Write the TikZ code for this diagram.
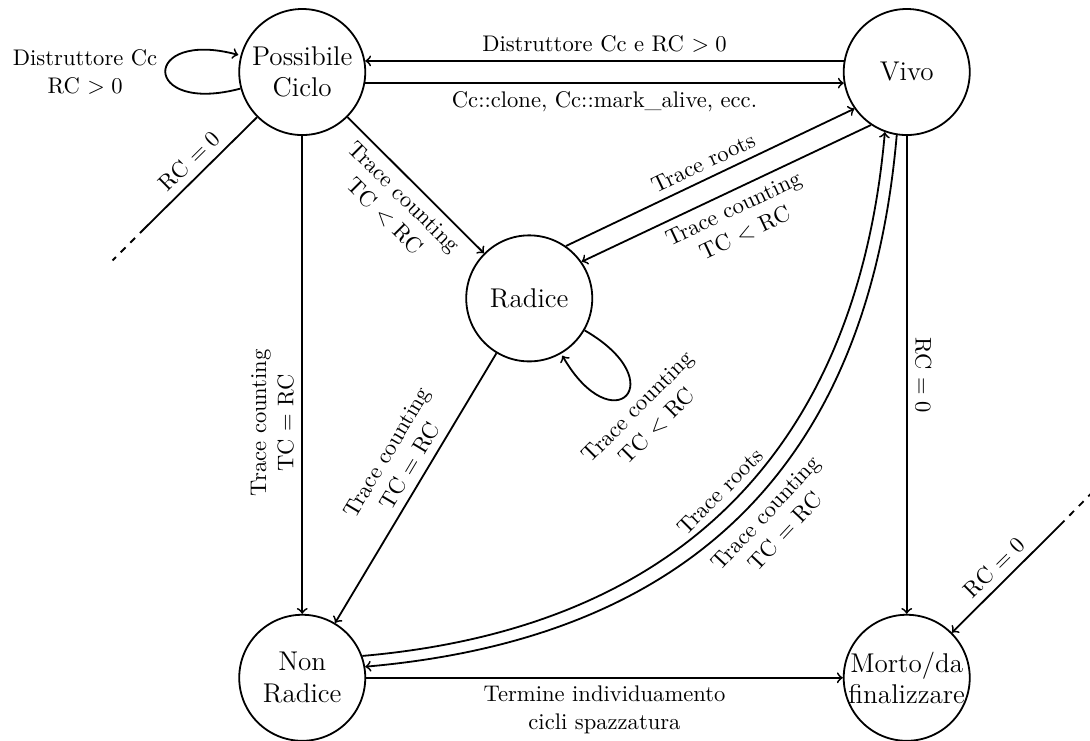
\documentclass[tikz,border=0pt]{standalone}
\usepackage{amsmath}
\usepackage{amssymb}
\usepackage{tikz}

\begin{document}
\begin{tikzpicture}[state/.style={circle, draw, thick, minimum size=1.96cm, inner sep=0pt, font=\large, align=center},
	trans/.style={->, thick},
	lbl/.style={align=center}]
				\useasboundingbox (0,0) rectangle (16.95,11.51);
				\node[state] (pc) at (4.7,10.39) {Possibile\\Ciclo};
				\node[state] (vivo) at (14.1,10.39) {Vivo};
				\node[state] (rad) at (8.23,6.87) {Radice};
				\node[state] (nr) at (4.7,0.97) {Non\\Radice};
				\node[state, inner sep=-2pt] (mo) at (14.1,0.97) {Morto/da\\finalizzare};
				\coordinate (pcout) at (2.25,7.96);
				\coordinate (pcend) at (1.75,7.46);
				\coordinate (moout) at (16.48,3.34);
				\coordinate (moend) at (17.05,3.92);
				\draw[trans] (vivo.170) -- node[above] {Distruttore Cc e RC $>0$} (pc.10);
				\draw[trans] (pc.-10) -- node[below] {Cc::clone, Cc::mark\_alive, ecc.} (vivo.190);
				\path[trans] (pc) edge[loop left] node[lbl] {Distruttore Cc\\RC $>0$} ();
				\draw[thick] (pc.225) -- node[sloped, above] {RC $=0$} (pcout);
				\draw[thick, dashed] (pcout) -- (pcend);
				\draw[trans] (pc) -- node[sloped, below, lbl] {Trace counting\\TC $<$ RC} (rad);
				\draw[trans] (pc) -- node[pos=0.6, rotate=90, anchor=south, lbl] {Trace counting\\TC $=$ RC} (nr);
				\draw[trans] (rad.55) -- node[sloped, above] {Trace roots} (vivo.215);
				\draw[trans] (vivo.236) -- node[sloped, below, lbl] {Trace counting\\TC $<$ RC} (rad.35);
				\path[trans] (rad) edge[out=-30, in=-60, loop] node[pos=0.5, rotate=45, anchor=north, lbl] {Trace counting\\TC $<$ RC} ();
				\draw[trans] (rad) -- node[pos=0.45, sloped, above, lbl] {Trace counting\\TC $=$ RC} (nr);
				\draw[trans] (nr) -- node[below, lbl] {Termine individuamento\\cicli spazzatura} (mo);
				\draw[trans] (nr.20) to[out=5, in=265, out looseness=1.31, in looseness=0.86] node[pos=0.45, sloped, above] {Trace roots} (vivo.250);
				\draw[trans] (vivo.261) to[out=265, in=5, out looseness=0.88, in looseness=1.33] node[pos=0.53, sloped, below, lbl] {Trace counting\\TC $=$ RC} (nr.10);
				\draw[trans] (vivo) -- node[rotate=-90, anchor=south] {RC $=0$} (mo);
				\draw[trans] (moout) -- node[sloped, above] {RC $=0$} (mo.45);
				\draw[thick, dashed] (moout) -- (moend);
\end{tikzpicture}
\end{document}
